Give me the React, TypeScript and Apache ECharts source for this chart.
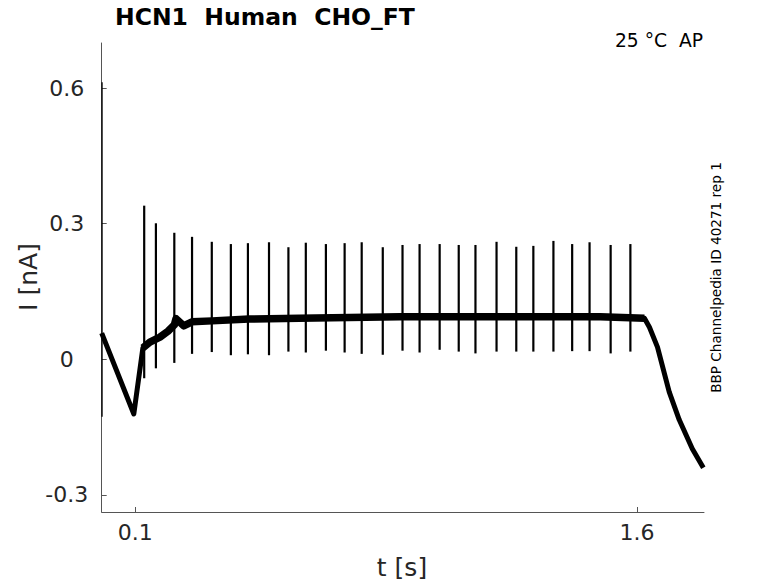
import React, { useEffect, useRef } from "react";
import * as echarts from "echarts";

// Slow (baseline) current trace: time [s], current [nA]
const baseT = [0, 0.096, 0.123, 0.144, 0.174, 0.198, 0.217, 0.222, 0.245, 0.27, 0.33, 0.44, 0.59, 0.89, 1.19, 1.49, 1.622, 1.637, 1.661, 1.696, 1.726, 1.765, 1.798];
const baseI = [0.058, -0.121, 0.025, 0.038, 0.049, 0.062, 0.076, 0.09, 0.074, 0.083, 0.085, 0.089, 0.091, 0.094, 0.094, 0.094, 0.091, 0.071, 0.027, -0.072, -0.134, -0.198, -0.24];
// index range of the noisy holding plateau within the trace
const plateauFrom = 2;
const plateauTo = 16;

// Capacitive transient at the start of the sweep
const transientT = [0.001];
const transientPeak = [0.613];
const transientTrough = [-0.127];

// Action-potential-like spikes: time, upper tip, lower tip
const spikeT = [0.127, 0.162, 0.217, 0.27, 0.329, 0.386, 0.437, 0.5, 0.558, 0.61, 0.67, 0.726, 0.777, 0.84, 0.899, 0.95, 1.01, 1.067, 1.117, 1.18, 1.239, 1.29, 1.35, 1.406, 1.458, 1.521, 1.58];
const spikePeak = [0.34, 0.301, 0.28, 0.271, 0.26, 0.255, 0.257, 0.259, 0.248, 0.258, 0.255, 0.257, 0.259, 0.248, 0.253, 0.255, 0.255, 0.253, 0.253, 0.26, 0.249, 0.251, 0.262, 0.255, 0.259, 0.253, 0.255];
const spikeTrough = [-0.042, -0.02, -0.008, 0.012, 0.016, 0.009, 0.011, 0.009, 0.017, 0.015, 0.019, 0.015, 0.012, 0.01, 0.019, 0.015, 0.021, 0.017, 0.013, 0.017, 0.017, 0.017, 0.017, 0.018, 0.018, 0.013, 0.017];

const xTicks = [0.1, 1.6];
const yTicks = [-0.3, 0, 0.3, 0.6];

const titleText = "HCN1  Human  CHO_FT";
const condText = "25 °C  AP";
const sideText = "BBP Channelpedia ID 40271 rep 1";
const xName = "t [s]";
const yName = "I [nA]";

const FONT = '"DejaVu Sans", sans-serif';

export default function App() {
  const ref = useRef<HTMLDivElement>(null);
  useEffect(() => {
    if (!ref.current) return;
    const chart = echarts.init(ref.current, null, { renderer: "svg" });
    const axisColor = "#555555";
    const labelColor = "#262626";
    const spikeSeries = (t: number[], p: number[], q: number[], w: number) => ({
      type: "custom",
      data: t.map((x, i) => [x, p[i], q[i]]),
      encode: { x: 0, y: [1, 2] },
      renderItem: (params: any, api: any) => {
        const p1 = api.coord([api.value(0), api.value(1)]);
        const p2 = api.coord([api.value(0), api.value(2)]);
        return {
          type: "line",
          shape: { x1: p1[0], y1: p1[1], x2: p2[0], y2: p2[1] },
          style: { stroke: "#000000", lineWidth: w },
        };
      },
      z: 3,
    });
    const option: any = {
      animation: false,
      backgroundColor: "#ffffff",
      grid: { left: 101.7, top: 43, right: 74, bottom: 71, containLabel: false },
      xAxis: {
        type: "value",
        min: 0,
        max: 1.8,
        splitLine: { show: false },
        axisLine: { show: true, onZero: false, lineStyle: { color: axisColor, width: 1 } },
        axisTick: { show: true, inside: true, length: 5, customValues: xTicks, lineStyle: { color: axisColor } },
        axisLabel: {
          show: true,
          customValues: xTicks,
          color: labelColor,
          fontFamily: FONT,
          fontSize: 22,
          margin: 9,
          formatter: (v: number) => String(v),
        },
      },
      yAxis: {
        type: "value",
        min: -0.338,
        max: 0.7,
        splitLine: { show: false },
        axisLine: { show: true, onZero: false, lineStyle: { color: axisColor, width: 1 } },
        axisTick: { show: true, inside: true, length: 5, customValues: yTicks, lineStyle: { color: axisColor } },
        axisLabel: {
          show: true,
          customValues: yTicks,
          color: labelColor,
          fontFamily: FONT,
          fontSize: 22,
          margin: 35,
          align: "center",
          formatter: (v: number) => String(v),
        },
      },
      series: [
        {
          type: "line",
          data: baseT.map((t, i) => [t, baseI[i]]),
          showSymbol: false,
          symbol: "none",
          lineStyle: { color: "#000000", width: 5, join: "round" },
          z: 2,
        },
        {
          type: "line",
          data: baseT.slice(plateauFrom, plateauTo + 1).map((t, i) => [t, baseI[plateauFrom + i]]),
          showSymbol: false,
          symbol: "none",
          lineStyle: { color: "#000000", width: 7.5, join: "round" },
          z: 2,
        },
        spikeSeries(transientT, transientPeak, transientTrough, 1.3),
        spikeSeries(spikeT, spikePeak, spikeTrough, 2.2),
      ],
      graphic: [
        {
          type: "text",
          left: 115,
          top: 5,
          style: { text: titleText, font: `bold 23.5px ${FONT}`, fill: "#000000" },
        },
        {
          type: "text",
          right: 75,
          top: 31,
          style: { text: condText, font: `18.7px ${FONT}`, fill: "#000000" },
        },
        {
          type: "text",
          x: 716,
          y: 277.5,
          rotation: Math.PI / 2,
          style: {
            text: sideText,
            font: `13.6px ${FONT}`,
            fill: "#000000",
            textAlign: "center",
            textVerticalAlign: "middle",
            align: "center",
            verticalAlign: "middle",
          },
        },
        {
          type: "text",
          x: 402,
          y: 567,
          style: {
            text: xName,
            font: `25px ${FONT}`,
            fill: labelColor,
            textAlign: "center",
            textVerticalAlign: "middle",
            align: "center",
            verticalAlign: "middle",
          },
        },
        {
          type: "text",
          x: 28,
          y: 277,
          rotation: Math.PI / 2,
          style: {
            text: yName,
            font: `25px ${FONT}`,
            fill: labelColor,
            textAlign: "center",
            textVerticalAlign: "middle",
            align: "center",
            verticalAlign: "middle",
          },
        },
      ],
    };
    chart.setOption(option);
    return () => chart.dispose();
  }, []);
  return (
    <div
      ref={ref}
      style={{ position: "fixed", left: 0, top: 0, width: 778, height: 583, background: "#fff" }}
    />
  );
}
